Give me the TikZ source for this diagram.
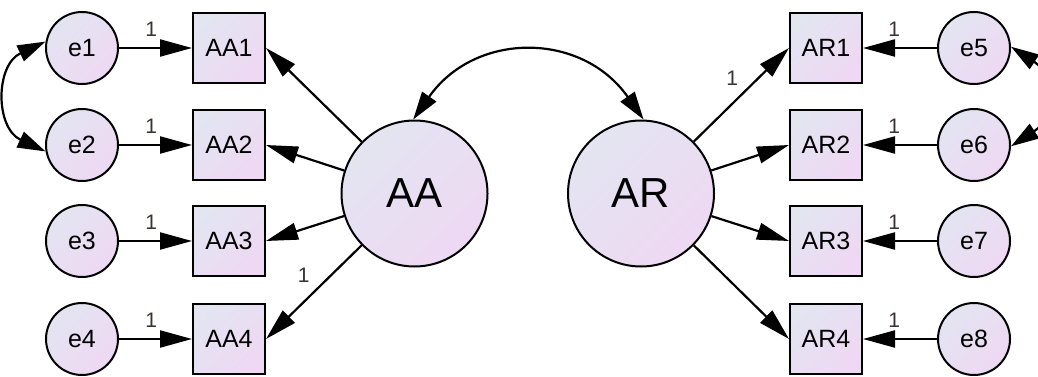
\documentclass[tikz,border=0pt]{standalone}
\usepackage{fontspec}
\setmainfont{Liberation Sans}
\usetikzlibrary{arrows.meta}
\definecolor{gA}{HTML}{E3E5F1}
\definecolor{gB}{HTML}{EED8F3}
\definecolor{lblcol}{HTML}{3A3330}
\begin{document}
\begin{tikzpicture}[x=1pt,y=1pt,
  shadedfill/.style={shading=axis, top color=gA, bottom color=gB, shading angle=45},
  errnode/.style={circle, draw, line width=2pt, shadedfill, minimum size=72pt, inner sep=0pt, font=\fontsize{25}{30}\selectfont},
  obsnode/.style={rectangle, draw, line width=2pt, shadedfill, minimum width=72pt, minimum height=70pt, inner sep=0pt, font=\fontsize{25}{30}\selectfont},
  latnode/.style={circle, draw, line width=2pt, shadedfill, minimum size=146pt, inner sep=0pt, font=\fontsize{42}{50}\selectfont},
  arr/.style={line width=2.2pt, -{Triangle[length=32pt,width=17pt]}},
  dbl/.style={line width=2.2pt, {Triangle[length=28pt,width=17pt]}-{Triangle[length=28pt,width=17pt]}},
  lbl/.style={font=\fontsize{21}{23}\selectfont, inner sep=0pt, text=lblcol}
]
\path[use as bounding box, fill=white] (0,0) rectangle (1038,376);

% latent
\node[latnode] (AA) at (414.5,182.5) {AA};
\node[latnode] (AR) at (641,182.5) {AR};

% left side
\node[obsnode] (AA1) at (229,328) {AA1};
\node[obsnode] (AA2) at (229,231) {AA2};
\node[obsnode] (AA3) at (229,135) {AA3};
\node[obsnode] (AA4) at (229,37) {AA4};
\node[errnode] (e1) at (82,328) {e1};
\node[errnode] (e2) at (82,231) {e2};
\node[errnode] (e3) at (82,135) {e3};
\node[errnode] (e4) at (82,37) {e4};

% right side
\node[obsnode] (AR1) at (826,328) {AR1};
\node[obsnode] (AR2) at (826,231) {AR2};
\node[obsnode] (AR3) at (826,135) {AR3};
\node[obsnode] (AR4) at (826,37) {AR4};
\node[errnode] (e5) at (974,328) {e5};
\node[errnode] (e6) at (974,231) {e6};
\node[errnode] (e7) at (974,135) {e7};
\node[errnode] (e8) at (974,37) {e8};

% error paths
\foreach \i in {1,2,3,4}{
  \draw[arr] (e\i) -- node[lbl, pos=.44, above=10pt] {1} (AA\i);
}
\foreach \i/\j in {5/1,6/2,7/3,8/4}{
  \draw[arr] (e\i) -- node[lbl, pos=.58, above=10pt] {1} (AR\j);
}

% loadings
\draw[arr] (AA) -- (AA1.east);
\draw[arr] (AA) -- (AA2.east);
\draw[arr] (AA) -- (AA3.east);
\draw[arr] (AA) -- node[lbl, pos=.47, xshift=-13pt, yshift=14pt] {1} (AA4.east);
\draw[arr] (AR) -- node[lbl, pos=.54, xshift=-13pt, yshift=13pt] {1} (AR1.west);
\draw[arr] (AR) -- (AR2.west);
\draw[arr] (AR) -- (AR3.west);
\draw[arr] (AR) -- (AR4.west);

% covariances
\draw[dbl] (AA.91) to[out=55, in=125, looseness=1.2] (AR.88);
\draw[dbl] (e1.170) to[out=205, in=155, looseness=1.3] (e2.190);
\draw[dbl] (e5.2) to[out=-33, in=33, looseness=1.35] (e6.-2);
\end{tikzpicture}
\end{document}
